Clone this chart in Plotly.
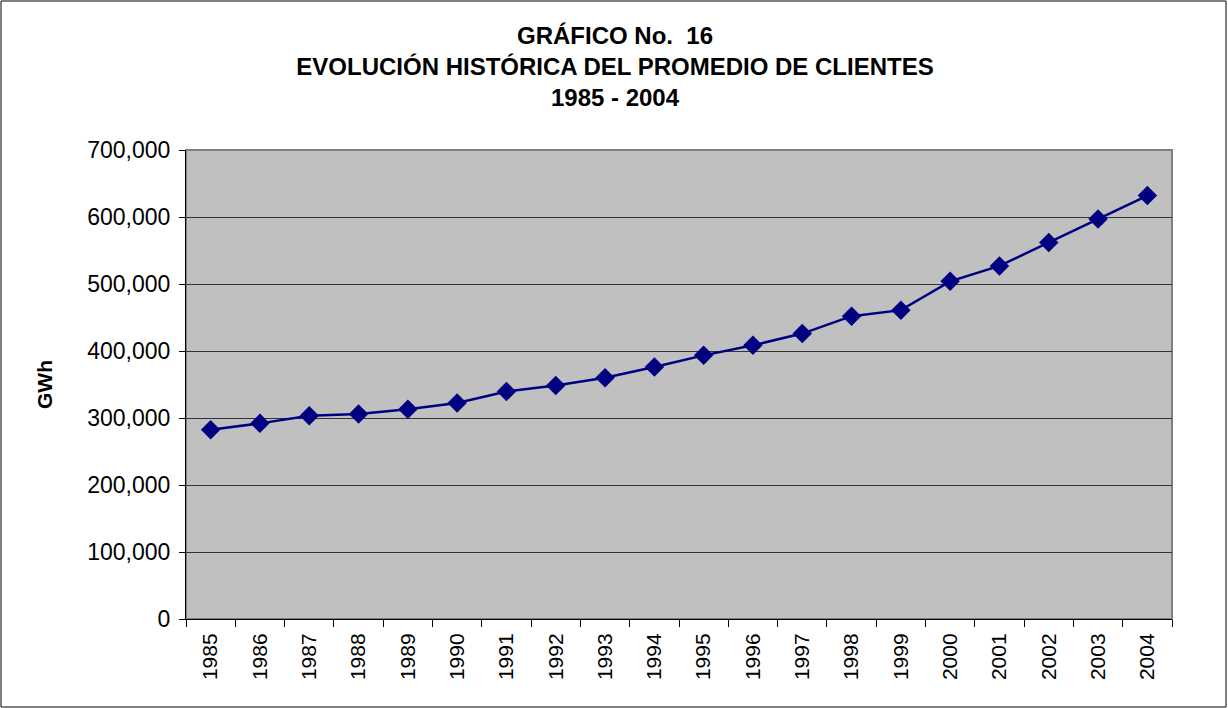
import plotly.graph_objects as go

years = [str(y) for y in range(1985, 2005)]
clientes = [282500, 292000, 303500, 306000, 313000, 322500, 339500, 348500, 360000, 376000,
            393500, 408500, 426000, 452000, 461000, 504000, 527000, 562000, 597000, 632000]
y_ticks = [0, 100000, 200000, 300000, 400000, 500000, 600000, 700000]
y_labels = ["0", "100,000", "200,000", "300,000", "400,000", "500,000", "600,000", "700,000"]

W, H = 1228, 708
L, R, T, B = 186, 56, 150, 89
pw, ph = W - L - R, H - T - B

fig = go.Figure(go.Scatter(
    x=years, y=clientes, mode="lines+markers",
    line=dict(color="#000080", width=2.5),
    marker=dict(symbol="diamond", size=15, color="#000080"),
    hoverinfo="x+y",
))

fig.update_layout(
    width=W, height=H,
    margin=dict(l=L, r=R, t=T, b=B),
    paper_bgcolor="white",
    plot_bgcolor="#C0C0C0",
    showlegend=False,
    font=dict(family="Arial, Liberation Sans, sans-serif", color="black"),
    title=dict(
        text="<b>GRÁFICO No.  16</b><br><b>EVOLUCIÓN HISTÓRICA DEL PROMEDIO DE CLIENTES</b><br><b>1985 - 2004</b>",
        x=615 / W, xanchor="center", y=1 - 44 / H, yanchor="top",
        font=dict(size=24, family="Arial, Liberation Sans, sans-serif"),
    ),
    xaxis=dict(
        type="category", range=[-0.5, 19.5],
        tickson="boundaries", ticks="outside", ticklen=7, tickcolor="black",
        tickangle=-90, tickfont=dict(size=21), ticklabelstandoff=5,
        showline=True, linecolor="black", linewidth=1,
        showgrid=False, zeroline=False, mirror=False,
    ),
    yaxis=dict(
        range=[0, 700000], tickvals=y_ticks, ticktext=y_labels,
        ticks="outside", ticklen=6, tickcolor="black",
        tickfont=dict(size=23), ticklabelstandoff=4,
        showline=True, linecolor="black", linewidth=1,
        showgrid=True, gridcolor="#333333", gridwidth=1,
        zeroline=False,
        title=dict(text="<b>GWh</b>", font=dict(size=21), standoff=28),
    ),
    shapes=[
        dict(type="rect", xref="paper", yref="paper", x0=0, x1=1, y0=0, y1=1,
             line=dict(color="#808080", width=2), layer="below"),
        dict(type="rect", xref="paper", yref="paper",
             x0=(1 - L) / pw, x1=(W - 2 - L) / pw,
             y0=(ph - (H - 1 - T)) / ph, y1=(ph - (1 - T)) / ph,
             line=dict(color="black", width=1)),
    ],
)

fig.write_html("out.html", config={"displayModeBar": False},
               post_script="document.body.style.margin='0px';")
